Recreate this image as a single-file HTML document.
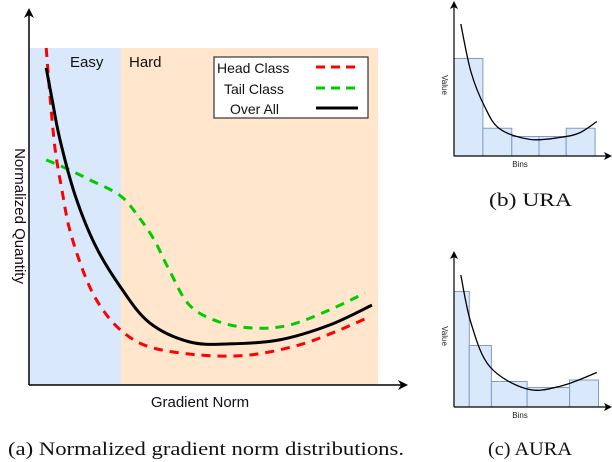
<!DOCTYPE html>
<html><head><meta charset="utf-8"><style>
body{margin:0;background:#fff;}
svg{display:block;font-family:"Liberation Sans",sans-serif;}
.cap{font-family:"Liberation Serif",serif;font-size:19px;fill:#111;}
</style></head><body>
<svg id="s" width="612" height="462" viewBox="0 0 612 462" xmlns="http://www.w3.org/2000/svg">
<defs><marker id="ar" markerWidth="10" markerHeight="10" refX="8" refY="5" orient="auto" markerUnits="userSpaceOnUse"><path d="M0,0 L10,5 L0,10 L3,5 Z" fill="#000"/></marker>
<marker id="ar2" markerWidth="8" markerHeight="8" refX="6" refY="4" orient="auto" markerUnits="userSpaceOnUse"><path d="M0,0 L8,4 L0,8 L2,4 Z" fill="#000"/></marker></defs>
<rect x="30" y="48" width="91" height="337" fill="#dae8fc"/>
<rect x="121" y="48" width="257" height="337" fill="#ffe6cc"/>
<text x="70" y="67" font-size="15" fill="#111">Easy</text>
<text x="129" y="67" font-size="15" fill="#111">Hard</text>
<g id="main"></g>
<line x1="29" y1="385" x2="29" y2="10" stroke="#000" stroke-width="1.5" marker-end="url(#ar)"/>
<line x1="29" y1="385" x2="406" y2="385" stroke="#000" stroke-width="1.5" marker-end="url(#ar)"/>
<text transform="translate(15,216) rotate(90)" text-anchor="middle" font-size="15" fill="#111">Normalized Quantity</text>
<text x="200" y="407" text-anchor="middle" font-size="15" fill="#111">Gradient Norm</text>
<g>
<rect x="214" y="57" width="154" height="61" fill="#fff" stroke="#333" stroke-width="1.2"/>
<text x="217" y="73" font-size="14" fill="#111">Head Class</text>
<line x1="316" y1="67" x2="358" y2="67" stroke="#f00" stroke-width="3" stroke-dasharray="9,6"/>
<text x="224" y="94" font-size="14" fill="#111">Tail Class</text>
<line x1="316" y1="88" x2="358" y2="88" stroke="#0c0" stroke-width="3" stroke-dasharray="9,6"/>
<text x="230" y="114" font-size="14" fill="#111">Over All</text>
<line x1="316" y1="108" x2="358" y2="108" stroke="#000" stroke-width="3"/>
</g>
<g id="ura"></g><g id="aura"></g>
<line x1="454" y1="156" x2="454" y2="3" stroke="#000" stroke-width="1.2" marker-end="url(#ar2)"/>
<line x1="454" y1="156" x2="610" y2="156" stroke="#000" stroke-width="1.2" marker-end="url(#ar2)"/>
<text transform="translate(442,85) rotate(90)" text-anchor="middle" font-size="8" fill="#222">Value</text>
<text x="520" y="167" text-anchor="middle" font-size="8" fill="#222">Bins</text>
<text x="489" y="206" class="cap" textLength="83" lengthAdjust="spacingAndGlyphs">(b)  URA</text>
<line x1="454" y1="407" x2="454" y2="253" stroke="#000" stroke-width="1.2" marker-end="url(#ar2)"/>
<line x1="454" y1="407" x2="610" y2="407" stroke="#000" stroke-width="1.2" marker-end="url(#ar2)"/>
<text transform="translate(442,336) rotate(90)" text-anchor="middle" font-size="8" fill="#222">Value</text>
<text x="520" y="418" text-anchor="middle" font-size="8" fill="#222">Bins</text>
<text x="488" y="455" class="cap" textLength="84" lengthAdjust="spacingAndGlyphs">(c)  AURA</text>
<text x="8" y="455" class="cap" textLength="396" lengthAdjust="spacingAndGlyphs">(a)  Normalized gradient norm distributions.</text>
</svg>
<script>
// Main chart data (x: 0-100 gradient norm, y: 0-100 normalized quantity)
const headX=[4.6,5.7,7.0,8.8,10.9,14.9,18.9,24.5,32.2,45.6,58.9,72.3,83.0,91.0];
const headY=[100,84.6,69.8,57.9,46.0,32.6,23.7,16.3,11.3,8.9,8.9,11.9,16.3,20.2];
const overallX=[4.6,6.2,8.3,12.3,17.7,24.5,32.2,42.9,53.6,67.0,80.4,91.7];
const overallY=[94.1,84.6,72.7,56.4,41.5,29.0,18.5,12.8,12.2,13.4,17.8,23.7];
const tailX=[4.6,9.7,16.4,24.5,29.5,33.5,37.5,42.9,50.9,60.3,69.7,80.4,89.8];
const tailY=[66.8,64.4,60.8,56.1,49.6,43.0,34.1,23.7,18.7,16.9,17.8,22.3,27.3];
// Histogram data (relative values, 0-100)
const uraBins=[1,2,3,4,5];
const uraVals=[65,18.5,13,13,18.5];
const uraCurveX=[4,10,18,27,45,63,74,84];
const uraCurveY=[88,56,33,18,11,12.5,15.5,23];
const auraBins=[1,2,3,4,5];
const auraEdges=[0,9,22,43,68,85];
const auraVals=[77,41,17,13,18];
const auraCurveX=[4,10,21,43,63,84];
const auraCurveY=[88,56,27,12,14,23];
const uraEdges=[0,17,34,50,66,83];

const NS="http://www.w3.org/2000/svg";
function mx(v){return 29+v*3.74;}
function my(v){return 385-(v/100)*337;}
function smooth(pts){
  let d="M"+pts[0][0]+","+pts[0][1];
  for(let i=0;i<pts.length-1;i++){
    const p0=pts[i-1]||pts[i],p1=pts[i],p2=pts[i+1],p3=pts[i+2]||p2;
    const c1=[p1[0]+(p2[0]-p0[0])/6,p1[1]+(p2[1]-p0[1])/6];
    const c2=[p2[0]-(p3[0]-p1[0])/6,p2[1]-(p3[1]-p1[1])/6];
    d+=" C"+c1+" "+c2+" "+p2;
  }
  return d;
}
function path(g,xs,ys,fx,fy,stroke,w,dash){
  const p=document.createElementNS(NS,"path");
  p.setAttribute("d",smooth(xs.map((x,i)=>[fx(x),fy(ys[i])])));
  p.setAttribute("fill","none");p.setAttribute("stroke",stroke);p.setAttribute("stroke-width",w);
  if(dash)p.setAttribute("stroke-dasharray",dash);
  g.appendChild(p);return p;
}
const main=document.getElementById("main");
let p;
p=path(main,tailX,tailY,mx,my,"#0c0",3,"9,7");


p=path(main,headX,headY,mx,my,"#f00",3,"9,7");


p=path(main,overallX,overallY,mx,my,"#000",3,null);



function hist(gid,base,edges,vals,cx,cy){
  const g=document.getElementById(gid);
  const hx=v=>454+v*1.7, hy=v=>base-v*1.5;
  vals.forEach((v,i)=>{
    const r=document.createElementNS(NS,"rect");
    r.setAttribute("x",hx(edges[i]));r.setAttribute("y",hy(v));
    r.setAttribute("width",hx(edges[i+1])-hx(edges[i]));r.setAttribute("height",base-hy(v));
    r.setAttribute("fill","#dae8fc");r.setAttribute("stroke","#7f9cc8");r.setAttribute("stroke-width","1");
    
    
    g.appendChild(r);
  });
  const c=path(g,cx,cy,hx,hy,"#000",1.3,null);
  
  
}
hist("ura",156,uraEdges,uraVals,uraCurveX,uraCurveY);
hist("aura",407,auraEdges,auraVals,auraCurveX,auraCurveY);
</script>
</body></html>
